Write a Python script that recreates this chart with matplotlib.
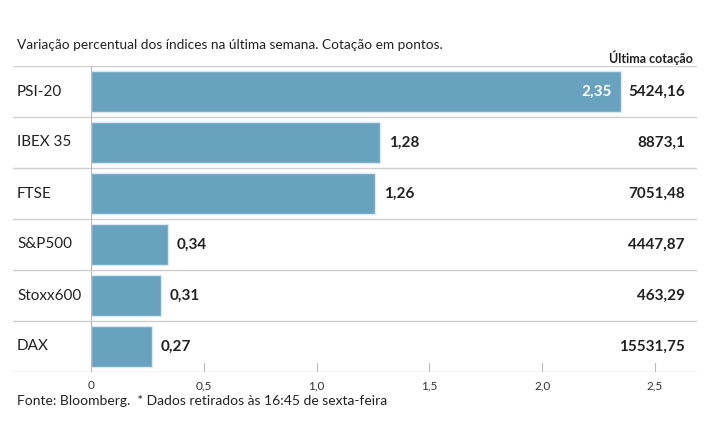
import matplotlib.pyplot as plt
import matplotlib.transforms as mtransforms

# data
indices = ["PSI-20", "IBEX 35", "FTSE", "S&P500", "Stoxx600", "DAX"]
variacao = [2.35, 1.28, 1.26, 0.34, 0.31, 0.27]
cotacao = ["5424,16", "8873,1", "7051,48", "4447,87", "463,29", "15531,75"]
xticks = [0, 0.5, 1.0, 1.5, 2.0, 2.5]
xtick_labels = ["0", "0,5", "1,0", "1,5", "2,0", "2,5"]

plt.rcParams['font.family'] = ['Lato', 'DejaVu Sans']
bar_color = '#68a2bf'
text_color = '#222222'
line_color = '#cfcfcf'

fig = plt.figure(figsize=(7.15, 4.45), dpi=100)
ax = fig.add_axes([13 / 715, (445 - 372) / 445, (697 - 13) / 715, (372 - 66) / 445])

pos = list(range(len(indices)))
ax.barh(pos, variacao, height=0.8, color=bar_color, edgecolor='#dbe8ef', linewidth=1, zorder=2)
ax.set_xlim(-0.346, 2.686)
ax.set_ylim(len(indices) - 0.5, -0.5)

# row separators
for i in range(len(indices) + 1):
    ax.axhline(i - 0.5, color=line_color, lw=1, zorder=1)
ax.axvline(0, color='#bbbbbb', lw=0.8, zorder=3)

trans = mtransforms.blended_transform_factory(ax.transAxes, ax.transData)
for i, (name, v, c) in enumerate(zip(indices, variacao, cotacao)):
    ax.text(4 / 684, i, name, transform=trans, ha='left', va='center',
            fontsize=11, color=text_color)
    lbl = f"{v:.2f}".replace('.', ',')
    if v > 2:
        ax.text(v - 0.04, i, lbl, ha='right', va='center', fontsize=11,
                color='white', fontweight='bold')
    else:
        ax.text(v + 0.04, i, lbl, ha='left', va='center', fontsize=11,
                color=text_color, fontweight='bold')
    ax.text(672 / 684, i, c, transform=trans, ha='right', va='center',
            fontsize=11, color=text_color, fontweight='bold')

ax.set_yticks([])
ax.set_xticks(xticks)
ax.set_xticklabels(xtick_labels, fontsize=8.5, color='#333333')
ax.tick_params(axis='x', length=0, pad=6)
for t in xticks[1:]:
    ax.plot([t, t], [len(indices) - 0.5, len(indices) - 0.5 - 0.18],
            color='#bbbbbb', lw=0.8, zorder=3)
for s in ax.spines.values():
    s.set_visible(False)

fig.text(17 / 715, 1 - 45 / 445, "Variação percentual dos índices na última semana. Cotação em pontos.",
         fontsize=9.8, color=text_color, va='center')
fig.text(693 / 715, 1 - 58 / 445, "Última cotação", fontsize=9, fontweight='bold',
         color=text_color, ha='right', va='center')
fig.text(17 / 715, 1 - 401 / 445, "Fonte: Bloomberg.  * Dados retirados às 16:45 de sexta-feira",
         fontsize=10, color=text_color, va='center')

fig.savefig('out.png', dpi=100, facecolor='white')
